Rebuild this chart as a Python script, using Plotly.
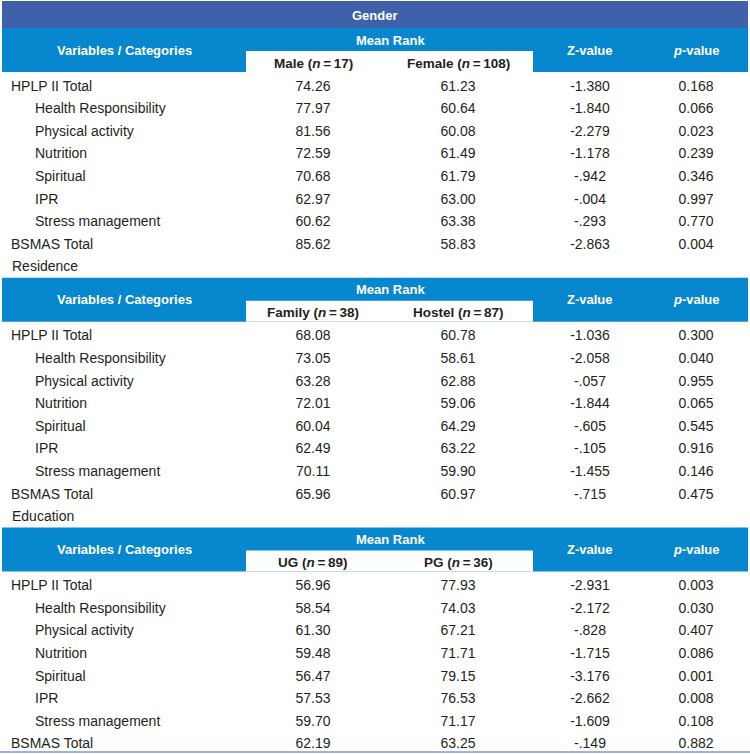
import plotly.graph_objects as go

variables = ["HPLP II Total", "Health Responsibility", "Physical activity", "Nutrition",
             "Spiritual", "IPR", "Stress management", "BSMAS Total"]
sub_item = [False, True, True, True, True, True, True, False]

# Gender
male = [74.26, 77.97, 81.56, 72.59, 70.68, 62.97, 60.62, 85.62]
female = [61.23, 60.64, 60.08, 61.49, 61.79, 63.00, 63.38, 58.83]
z_gender = [-1.380, -1.840, -2.279, -1.178, -0.942, -0.004, -0.293, -2.863]
p_gender = [0.168, 0.066, 0.023, 0.239, 0.346, 0.997, 0.770, 0.004]

# Residence
family = [68.08, 73.05, 63.28, 72.01, 60.04, 62.49, 70.11, 65.96]
hostel = [60.78, 58.61, 62.88, 59.06, 64.29, 63.22, 59.90, 60.97]
z_res = [-1.036, -2.058, -0.057, -1.844, -0.605, -0.105, -1.455, -0.715]
p_res = [0.300, 0.040, 0.955, 0.065, 0.545, 0.916, 0.146, 0.475]

# Education
ug = [56.96, 58.54, 61.30, 59.48, 56.47, 57.53, 59.70, 62.19]
pg = [77.93, 74.03, 67.21, 71.71, 79.15, 76.53, 71.17, 63.25]
z_edu = [-2.931, -2.172, -0.828, -1.715, -3.176, -2.662, -1.609, -0.149]
p_edu = [0.003, 0.030, 0.407, 0.086, 0.001, 0.008, 0.108, 0.882]

sections = [
    ("Gender", "Male", 17, "Female", 108, male, female, z_gender, p_gender),
    ("Residence", "Family", 38, "Hostel", 87, family, hostel, z_res, p_res),
    ("Education", "UG", 89, "PG", 36, ug, pg, z_edu, p_edu),
]

DARK = "#3F61AA"
BLUE = "#0787CD"
TXT = "#231F20"
FONT = "Liberation Sans, Arial, sans-serif"
ROW_H = 22.6
THIN = "\u2009"

col_x = [313, 458, 590, 696]


def fmt_z(v):
    s = f"{v:.3f}"
    return s.replace("-0.", "-.")


fig = go.Figure()
shapes = []
annotations = []

top = 28
for k, (name, g1, n1, g2, n2, a, b, z, p) in enumerate(sections):
    # header block
    shapes.append(dict(type="rect", x0=2, x1=748, y0=top, y1=top + 44,
                       fillcolor=BLUE, line_width=0, layer="below"))
    shapes.append(dict(type="rect", x0=246, x1=533, y0=top + 23, y1=top + 44,
                       fillcolor="white", line_width=0, layer="below"))
    hdr = dict(xref="x", yref="y", showarrow=False,
               font=dict(family=FONT, size=13, color="white"))
    annotations.append(dict(hdr, x=124, y=top + 22, text="<b>Variables / Categories</b>"))
    annotations.append(dict(hdr, x=390, y=top + 12, text="<b>Mean Rank</b>"))
    annotations.append(dict(hdr, x=col_x[2], y=top + 22, text="<b>Z-value</b>"))
    annotations.append(dict(hdr, x=col_x[3], y=top + 22, text="<b><i>p</i>-value</b>"))
    sub = dict(xref="x", yref="y", showarrow=False,
               font=dict(family=FONT, size=13.5, color=TXT))
    annotations.append(dict(sub, x=col_x[0], y=top + 35,
                            text=f"<b>{g1} (<i>n</i>{THIN}={THIN}{n1})</b>"))
    annotations.append(dict(sub, x=col_x[1], y=top + 35,
                            text=f"<b>{g2} (<i>n</i>{THIN}={THIN}{n2})</b>"))

    ys = [top + 59 + ROW_H * i for i in range(len(variables))]
    lx = [35 if s else 11 for s in sub_item]
    fig.add_trace(go.Scatter(x=lx, y=ys, text=variables, mode="text",
                             textposition="middle right",
                             textfont=dict(family=FONT, size=14, color=TXT),
                             hoverinfo="skip", showlegend=False))
    cols = [[f"{v:.2f}" for v in a], [f"{v:.2f}" for v in b],
            [fmt_z(v) for v in z], [f"{v:.3f}" for v in p]]
    for cx, vals in zip(col_x, cols):
        fig.add_trace(go.Scatter(x=[cx] * len(vals), y=ys, text=vals, mode="text",
                                 textposition="middle center",
                                 textfont=dict(family=FONT, size=14, color=TXT),
                                 hoverinfo="skip", showlegend=False))
    last = top + 57 + ROW_H * (len(variables) - 1)
    if k + 1 < len(sections):
        annotations.append(dict(xref="x", yref="y", showarrow=False, x=10, y=last + ROW_H,
                                xanchor="left", text=sections[k + 1][0],
                                font=dict(family=FONT, size=14, color=TXT)))
        top = last + ROW_H + 12

# title bar
shapes.append(dict(type="rect", x0=2, x1=748, y0=1, y1=28,
                   fillcolor=DARK, line_width=0, layer="below"))
annotations.append(dict(xref="x", yref="y", showarrow=False, x=375, y=15,
                        text="<b>Gender</b>",
                        font=dict(family=FONT, size=13, color="white")))
# bottom rule
shapes.append(dict(type="line", x0=0, x1=750, y0=752, y1=752,
                   line=dict(color="#7A9BD0", width=1.5)))

fig.update_layout(
    width=750, height=754,
    margin=dict(l=0, r=0, t=0, b=0),
    paper_bgcolor="white", plot_bgcolor="white",
    xaxis=dict(range=[0, 750], visible=False, fixedrange=True),
    yaxis=dict(range=[754, 0], visible=False, fixedrange=True),
    shapes=shapes, annotations=annotations,
)

fig.write_html("out.html", config={"displayModeBar": False},
               post_script="document.body.style.margin='0';")
